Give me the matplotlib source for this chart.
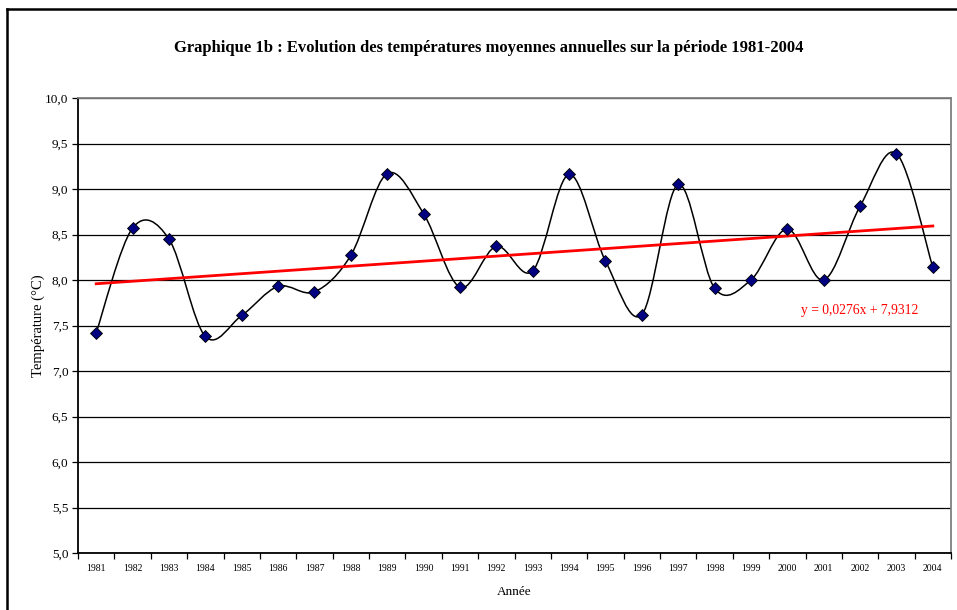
import numpy as np
import matplotlib
matplotlib.use("Agg")
import matplotlib.pyplot as plt
from matplotlib.path import Path
from matplotlib.patches import PathPatch
from matplotlib.ticker import FuncFormatter, MultipleLocator, FixedLocator
from matplotlib.lines import Line2D

years = [str(y) for y in range(1981, 2005)]
temps = [7.42, 8.57, 8.45, 7.38, 7.61, 7.93, 7.87, 8.27, 9.17, 8.73, 7.92, 8.37,
         8.10, 9.16, 8.21, 7.62, 9.05, 7.91, 8.00, 8.56, 8.00, 8.81, 9.39, 8.14]
slope = 0.0276
intercept = 7.9312
title = "Graphique 1b : Evolution des températures moyennes annuelles sur la période 1981-2004"
xlabel = "Année"
ylabel = "Température (°C)"
equation = "y = 0,0276x + 7,9312"

plt.rcParams['font.family'] = ['Liberation Serif', 'DejaVu Serif']

fig = plt.figure(figsize=(9.57, 6.10), dpi=100)
ax = fig.add_axes([78/957, 1-553/610, (951-78)/957, (553-98)/610])

x = np.arange(len(temps))
y = np.array(temps)

# Smoothed line (Catmull-Rom style Bezier like Excel)
verts = [(x[0], y[0])]
codes = [Path.MOVETO]
n = len(x)
for i in range(n - 1):
    p0 = np.array([x[max(i-1, 0)], y[max(i-1, 0)]])
    p1 = np.array([x[i], y[i]])
    p2 = np.array([x[i+1], y[i+1]])
    p3 = np.array([x[min(i+2, n-1)], y[min(i+2, n-1)]])
    c1 = p1 + (p2 - p0) / 6.0
    c2 = p2 - (p3 - p1) / 6.0
    verts += [tuple(c1), tuple(c2), tuple(p2)]
    codes += [Path.CURVE4] * 3
ax.add_patch(PathPatch(Path(verts, codes), facecolor='none', edgecolor='black',
                       lw=1.1, zorder=3))

ax.plot(x, y, linestyle='none', marker='D', markersize=6,
        markerfacecolor='#000080', markeredgecolor='black', markeredgewidth=0.6, zorder=5)

# Trend line
xt = np.array([1, len(temps)])
ax.plot(xt - 1, slope * xt + intercept, color='#ff0000', lw=2.0, zorder=4)

ax.text(21.0, 7.67, equation, color='#ff0000', fontsize=9.8, ha='center', va='center')

ax.set_xlim(-0.5, len(temps) - 0.5)
ax.set_ylim(5.0, 10.0)
ax.yaxis.set_major_locator(MultipleLocator(0.5))
ax.yaxis.set_major_formatter(FuncFormatter(lambda v, p: f"{v:.1f}".replace('.', ',')))
ax.grid(axis='y', color='black', lw=0.9)
ax.set_axisbelow(True)

ax.set_xticks(x)
ax.set_xticklabels(years, fontsize=7)
ax.xaxis.set_minor_locator(FixedLocator(np.arange(-0.5, len(temps), 1.0)))
ax.tick_params(axis='x', which='major', length=0, pad=8)
ax.tick_params(axis='x', which='minor', length=4, width=0.9, direction='out', color='black')
ax.tick_params(axis='y', which='major', length=4, width=0.9, direction='out', labelsize=9.5, pad=3)

for s in ['left', 'bottom']:
    ax.spines[s].set_color('black')
    ax.spines[s].set_linewidth(1.3)
for s in ['top', 'right']:
    ax.spines[s].set_color('#808080')
    ax.spines[s].set_linewidth(1.3)

ax.set_xlabel(xlabel, fontsize=9.5, labelpad=9)
ax.set_ylabel(ylabel, fontsize=10.5, labelpad=0)

fig.text(489/957, 1-48/610, title, ha='center', va='center', fontsize=12, fontweight='bold')

# outer chart border (left and top visible)
fig.add_artist(Line2D([7/957, 7/957], [0, 1-9/610], transform=fig.transFigure, color='black', lw=1.8))
fig.add_artist(Line2D([7/957, 1], [1-9/610, 1-9/610], transform=fig.transFigure, color='black', lw=1.8))

fig.savefig("out.png", dpi=100)
